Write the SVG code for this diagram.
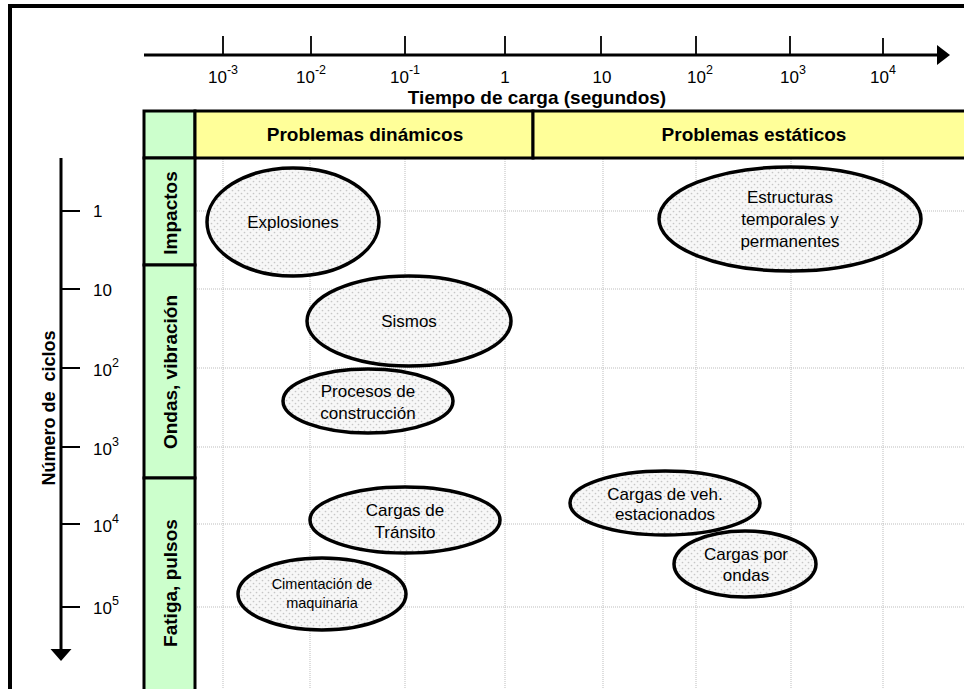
<svg xmlns="http://www.w3.org/2000/svg" width="964" height="689" viewBox="0 0 964 689">
<defs>
<pattern id="dots" width="6" height="6" patternUnits="userSpaceOnUse">
<rect width="6" height="6" fill="#f7f7f7"/>
<circle cx="1.5" cy="1.5" r="0.85" fill="#c6c6c6"/>
<circle cx="4.5" cy="4.5" r="0.85" fill="#c6c6c6"/>
</pattern>
<style>
text{font-family:"Liberation Sans",Arial,sans-serif;fill:#000}
.t{font-size:17px}
.s{font-size:12.5px}
.b{font-size:19px;font-weight:bold}
.grid{stroke:#bdbdbd;stroke-width:1;stroke-dasharray:1 1;fill:none}
.ell{fill:url(#dots);stroke:#000;stroke-width:3.5}
.box{stroke:#000;stroke-width:3}
.ax{stroke:#000;stroke-width:3;fill:none}
.tick{stroke:#000;stroke-width:1.8}
.c{text-anchor:middle}
</style>
</defs>
<rect width="964" height="689" fill="#fff"/>

<g id="grid">
<path class="grid" d="M223 159V689M310 159V689M405 159V689M505 159V689M603 159V689M696 159V689M791 159V689M883 159V689"/>
<path class="grid" d="M195 211H964M195 289H964M195 368H964M195 447H964M195 524H964M195 607H964"/>
</g>

<g id="header">
<rect x="144" y="111" width="51" height="47" fill="#ccffcc" class="box"/>
<rect x="195" y="111" width="338" height="47" fill="#ffff99" class="box"/>
<rect x="533" y="111" width="435" height="47" fill="#ffff99" class="box"/>
<text class="b c" x="365" y="141">Problemas dinámicos</text>
<text class="b c" x="754" y="141">Problemas estáticos</text>
</g>

<g id="rows">
<rect x="144" y="158" width="51" height="107" fill="#ccffcc" class="box"/>
<rect x="144" y="265" width="51" height="213" fill="#ccffcc" class="box"/>
<rect x="144" y="478" width="51" height="215" fill="#ccffcc" class="box"/>
<text class="b c" transform="translate(177 213) rotate(-90)">Impactos</text>
<text class="b c" transform="translate(177 372) rotate(-90)">Ondas, vibración</text>
<text class="b c" transform="translate(177 583) rotate(-90)">Fatiga, pulsos</text>
</g>

<g id="axes">
<path class="ax" d="M144 55H940"/>
<polygon points="937,45 950,55 937,65" fill="#000"/>
<path class="tick" d="M223 36V55M311 36V55M405 36V55M505 36V55M601 36V55M696 36V55M790 36V55M883 38V55"/>
<text class="t c" x="223" y="83">10<tspan class="s" dy="-9">-3</tspan></text>
<text class="t c" x="311" y="83">10<tspan class="s" dy="-9">-2</tspan></text>
<text class="t c" x="405" y="83">10<tspan class="s" dy="-9">-1</tspan></text>
<text class="t c" x="505" y="83">1</text>
<text class="t c" x="602" y="83">10</text>
<text class="t c" x="700" y="83">10<tspan class="s" dy="-9">2</tspan></text>
<text class="t c" x="793" y="83">10<tspan class="s" dy="-9">3</tspan></text>
<text class="t c" x="883" y="83">10<tspan class="s" dy="-9">4</tspan></text>
<text class="b c" x="537" y="104">Tiempo de carga (segundos)</text>

<path class="ax" d="M61 158V650"/>
<polygon points="50.5,649 71.5,649 61,661" fill="#000"/>
<path class="tick" d="M61 211H80M61 289H80M61 368H80M61 447H80M61 524H80M61 607H80"/>
<text class="t" x="93" y="217">1</text>
<text class="t" x="93" y="296">10</text>
<text class="t" x="93" y="376">10<tspan class="s" dy="-9">2</tspan></text>
<text class="t" x="93" y="455">10<tspan class="s" dy="-9">3</tspan></text>
<text class="t" x="93" y="532">10<tspan class="s" dy="-9">4</tspan></text>
<text class="t" x="93" y="614">10<tspan class="s" dy="-9">5</tspan></text>
<text class="b c" style="font-size:18px" xml:space="preserve" transform="translate(55 408) rotate(-90)">Número de  ciclos</text>
</g>

<g id="explosiones">
<ellipse class="ell" cx="293" cy="222" rx="86" ry="54"/>
<text class="t c" x="293" y="228">Explosiones</text>
</g>
<g id="sismos">
<ellipse class="ell" cx="409" cy="321" rx="102" ry="45"/>
<text class="t c" x="409" y="327">Sismos</text>
</g>
<g id="procesos">
<ellipse class="ell" cx="368" cy="401" rx="85" ry="32"/>
<text class="t c" x="368" y="397">Procesos de</text>
<text class="t c" x="368" y="419">construcción</text>
</g>
<g id="transito">
<ellipse class="ell" cx="405" cy="520" rx="95" ry="33"/>
<text class="t c" x="405" y="516">Cargas de</text>
<text class="t c" x="405" y="538">Tránsito</text>
</g>
<g id="cimentacion">
<ellipse class="ell" cx="322" cy="594" rx="84" ry="36"/>
<text class="c" style="font-size:14.5px" x="322" y="589">Cimentación de</text>
<text class="c" style="font-size:14.5px" x="322" y="608">maquinaria</text>
</g>
<g id="estructuras">
<ellipse class="ell" cx="790" cy="219" rx="131" ry="52"/>
<text class="t c" x="790" y="203">Estructuras</text>
<text class="t c" x="790" y="225">temporales y</text>
<text class="t c" x="790" y="247">permanentes</text>
</g>
<g id="estacionados">
<ellipse class="ell" cx="665" cy="503" rx="95" ry="32"/>
<text class="t c" x="665" y="500">Cargas de veh.</text>
<text class="t c" x="665" y="520">estacionados</text>
</g>
<g id="ondas">
<ellipse class="ell" cx="745" cy="564" rx="71" ry="33"/>
<text class="t c" x="746" y="560">Cargas por</text>
<text class="t c" x="746" y="581">ondas</text>
</g>

<g id="frame">
<path d="M8 6H964M10 4V689" stroke="#000" stroke-width="4" fill="none"/>
</g>
</svg>
